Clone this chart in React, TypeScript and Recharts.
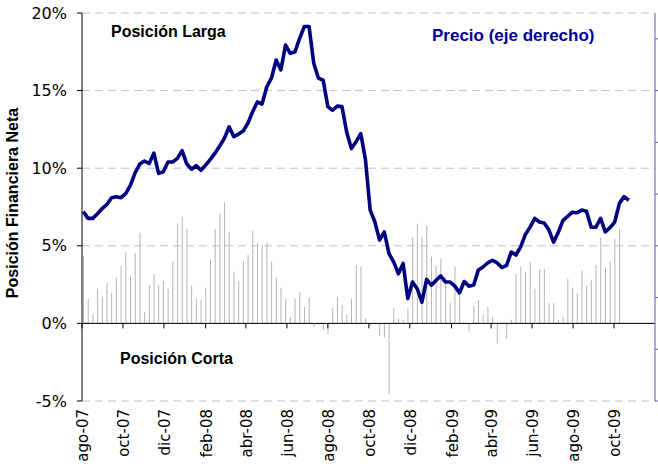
import React from "react";
import {
  ComposedChart,
  Bar,
  Line,
  XAxis,
  YAxis,
  CartesianGrid,
  ReferenceLine,
} from "recharts";

// weekly observations, first one on this date
const firstWeek = "2007-08-03";
const axisStart = "2007-08-01";
const axisEnd = "2009-12-01";

const tickMonths = [
  "2007-08-01", "2007-10-01", "2007-12-01", "2008-02-01", "2008-04-01",
  "2008-06-01", "2008-08-01", "2008-10-01", "2008-12-01", "2009-02-01",
  "2009-04-01", "2009-06-01", "2009-08-01", "2009-10-01",
];
const tickLabels = [
  "ago-07", "oct-07", "dic-07", "feb-08", "abr-08", "jun-08", "ago-08",
  "oct-08", "dic-08", "feb-09", "abr-09", "jun-09", "ago-09", "oct-09",
];

const leftTicks = [-5, 0, 5, 10, 15, 20];
const rightTicks = [0, 100, 200, 300, 400, 500, 600, 700];

// posición financiera neta (%), one bar per week
const netPosition = [
  4.35, 1.58, 0.55, 2.23, 1.71, 2.61, 1.97, 2.94, 3.71, 4.61,
  3.0, 4.55, 5.84, 0.74, 2.48, 3.19, 2.48, 2.74, 2.23, 3.97,
  6.42, 6.87, 6.1, 2.42, 1.58, 1.52, 2.29, 4.1, 6.1, 7.06,
  7.77, 5.9, 3.32, 2.74, 4.03, 4.42, 5.97, 5.19, 5.06, 5.19,
  3.97, 2.94, 2.29, 1.58, 0.42, 1.58, 2.03, 1.06, 1.65, -0.23,
  -0.1, -0.42, -0.68, 1.0, 1.71, 1.19, 0.55, 1.58, 3.77, 3.65,
  0.35, -0.14, 0, -0.79, -0.91, -4.57, 1.0, 0.29, 0.23, 0.94,
  5.52, 6.42, 5.52, 6.29, 4.29, 3.71, 4.16, 3.0, 1.32, 3.65,
  1.84, 0, -0.52, 1.13, 1.52, 0.55, 1.06, 0.42, -1.3, 0,
  -0.98, 0.23, 3.19, 3.65, 3.32, 3.97, 2.23, 3.52, 3.52, 1.32,
  1.32, 0.23, 0.42, 2.87, 2.29, 1.97, 3.39, 2.42, 2.81, 3.77,
  5.52, 3.58, 4.03, 5.45, 6.1,
];

// precio (eje derecho)
const price = [
  366, 353, 353, 362, 372, 380, 393, 395, 393, 401,
  417, 441, 458, 464, 459, 479, 440, 443, 462, 462,
  469, 484, 458, 448, 455, 446, 456, 467, 479, 493,
  508, 530, 511, 516, 522, 537, 559, 578, 574, 607,
  624, 659, 640, 688, 672, 675, 701, 724, 724, 653,
  624, 620, 569, 562, 570, 569, 520, 488, 501, 517,
  466, 369, 346, 311, 327, 285, 269, 246, 266, 198,
  230, 217, 191, 235, 224, 233, 242, 230, 230, 222,
  209, 231, 222, 224, 253, 259, 267, 272, 267, 258,
  262, 288, 282, 298, 322, 336, 353, 346, 344, 331,
  307, 326, 349, 357, 365, 364, 369, 367, 336, 336,
  353, 327, 335, 346, 382, 395, 388,
];

const dayOf = (s: string) => (Date.parse(s) - Date.parse(axisStart)) / 86400000;
const tickDays = tickMonths.map(dayOf);

const data = price.map((p, i) => ({
  day: dayOf(firstWeek) + 7 * i,
  price: p,
  pos: i < netPosition.length ? netPosition[i] : null,
}));

const tickFont = "'DejaVu Sans', Verdana, sans-serif";
const boldFont = "'Liberation Sans', Arial, sans-serif";

const XTick = (props: any) => {
  const { x, y, payload } = props;
  const label = tickLabels[tickDays.indexOf(payload.value)];
  const tx = x + 1;
  return (
    <text
      x={tx}
      y={y}
      transform={`rotate(-90 ${tx} ${y})`}
      textAnchor="end"
      dy="0.35em"
      fontSize={15}
      fontFamily={tickFont}
      fill="#000"
    >
      {label}
    </text>
  );
};

export default function App() {
  return (
    <div
      style={{
        position: "absolute",
        left: 0,
        top: 0,
        width: 658,
        height: 467,
        background: "#fff",
      }}
    >
      <ComposedChart
        width={658}
        height={467}
        data={data}
        margin={{ top: 13, right: 0, bottom: 0, left: 0 }}
      >
        <CartesianGrid
          yAxisId="left"
          vertical={false}
          stroke="#c0c0c0"
          strokeDasharray="8 5"
        />
        <XAxis
          dataKey="day"
          type="number"
          domain={[0, dayOf(axisEnd)]}
          allowDataOverflow
          ticks={tickDays}
          interval={0}
          axisLine={false}
          tickLine={false}
          tickSize={0}
          tickMargin={8}
          height={66}
          tick={<XTick />}
        />
        <YAxis
          yAxisId="left"
          domain={[-5, 20]}
          ticks={leftTicks}
          width={82}
          tickSize={5}
          tickMargin={10}
          tickFormatter={(v: number) => `${v}%`}
          axisLine={{ stroke: "#000" }}
          tickLine={{ stroke: "#000" }}
          tick={{ fill: "#000", fontSize: 16, fontFamily: tickFont }}
        />
        <YAxis
          yAxisId="right"
          orientation="right"
          domain={[0, 750]}
          ticks={rightTicks}
          width={3}
          tickSize={4}
          tick={() => <g />}
          axisLine={{ stroke: "#5a5ab4" }}
          tickLine={{ stroke: "#5a5ab4" }}
        />
        <Bar
          yAxisId="left"
          dataKey="pos"
          barSize={1}
          fill="#b4b4b4"
          isAnimationActive={false}
        />
        <ReferenceLine yAxisId="left" y={0} stroke="#000" strokeWidth={1} />
        {tickDays.map((d) => (
          <ReferenceLine
            key={d}
            yAxisId="left"
            ifOverflow="visible"
            segment={[
              { x: d, y: 0 },
              { x: d, y: -0.32 },
            ]}
            stroke="#000"
            strokeWidth={1}
          />
        ))}
        <Line
          yAxisId="right"
          dataKey="price"
          type="linear"
          stroke="#000080"
          strokeWidth={3.6}
          strokeLinejoin="round"
          dot={false}
          activeDot={false}
          isAnimationActive={false}
        />
      </ComposedChart>
      <svg
        width={658}
        height={467}
        style={{ position: "absolute", left: 0, top: 0, pointerEvents: "none" }}
      >
        <text x={111} y={37} fontSize={16} fontWeight="bold" fontFamily={boldFont} fill="#000">
          Posición Larga
        </text>
        <text x={432} y={41} fontSize={17} fontWeight="bold" fontFamily={boldFont} fill="#000099">
          Precio (eje derecho)
        </text>
        <text x={120} y={364} fontSize={16} fontWeight="bold" fontFamily={boldFont} fill="#000">
          Posición Corta
        </text>
        <text
          x={18}
          y={203}
          transform="rotate(-90 18 203)"
          textAnchor="middle"
          fontSize={16}
          fontWeight="bold"
          fontFamily={boldFont}
          fill="#000"
        >
          Posición Financiera Neta
        </text>
      </svg>
    </div>
  );
}
